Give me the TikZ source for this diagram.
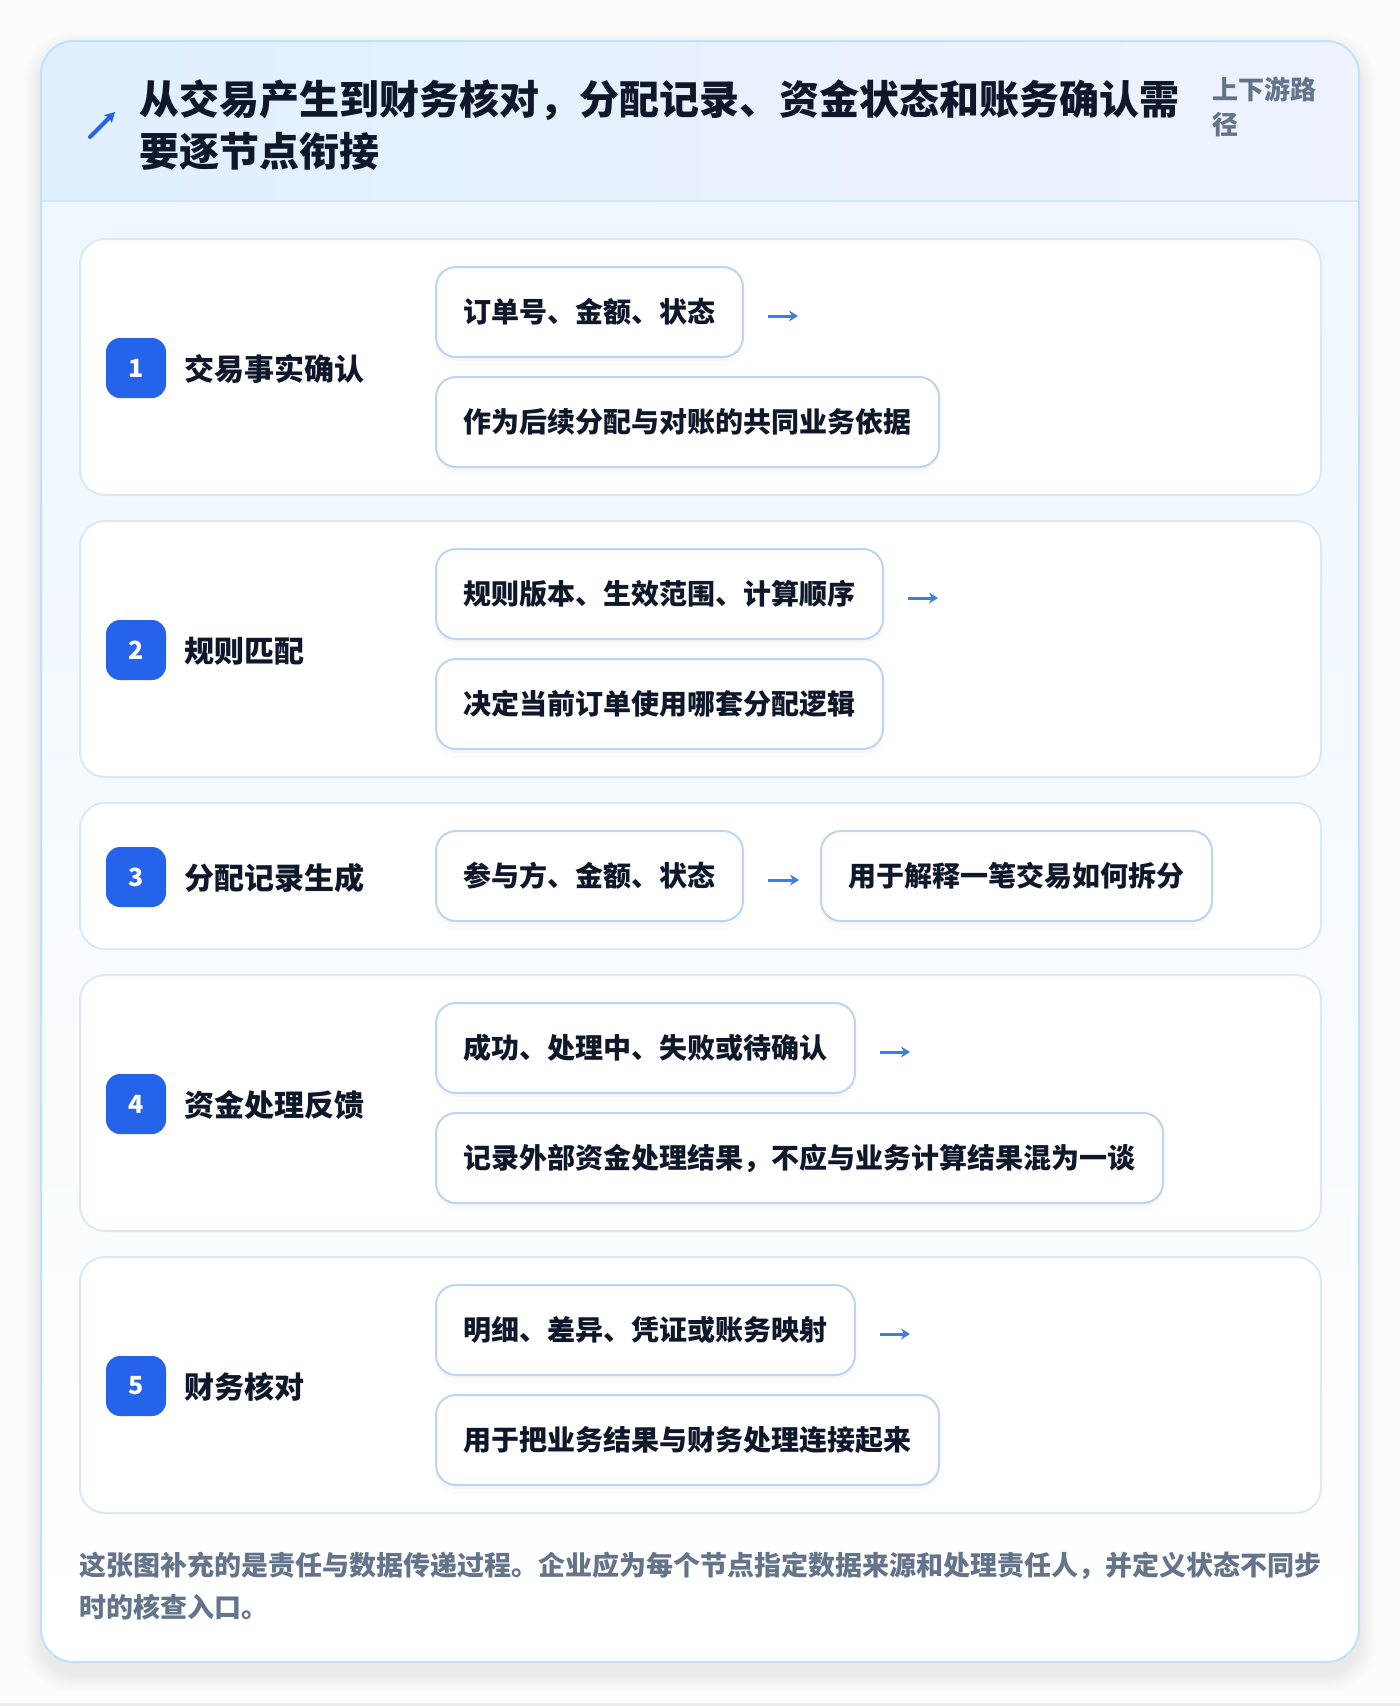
\documentclass[tikz,border=0pt]{standalone}
\usepackage{fontspec}
\setmainfont{Noto Sans CJK SC}
\usetikzlibrary{positioning,arrows.meta,shadows}

\definecolor{inkdark}{HTML}{0F172A}
\definecolor{slatetext}{HTML}{64748B}
\definecolor{badgeblue}{HTML}{2563EB}
\definecolor{arrowblue}{HTML}{3B7FE6}
\definecolor{cardline}{HTML}{DAE8F7}
\definecolor{boxline}{HTML}{BCD5F3}
\definecolor{outerline}{HTML}{BEE2F8}
\definecolor{headleft}{HTML}{E0F0FE}
\definecolor{headright}{HTML}{EEF2FF}
\definecolor{headline}{HTML}{D3E7FA}
\definecolor{bodytop}{HTML}{EEF7FF}
\definecolor{pagebg}{HTML}{FCFCFD}

\tikzset{
  stepcard/.style={draw=cardline, line width=2pt, fill=white, rounded corners=25pt,
    minimum width=1241pt, anchor=north west, inner sep=0pt},
  badge/.style={fill=badgeblue, rounded corners=14pt, minimum size=60pt, inner sep=0pt,
    text=white, font=\fontsize{25}{25}\selectfont\bfseries},
  steplabel/.style={anchor=west, inner sep=0pt, text=inkdark,
    font=\fontsize{30}{30}\selectfont\bfseries},
  itembox/.style={draw=boxline, line width=2pt, fill=white, rounded corners=20pt,
    minimum height=90pt, inner xsep=27.5pt, inner ysep=0pt, anchor=north west,
    text=inkdark, font=\fontsize{28}{28}\selectfont\bfseries,
    drop shadow={opacity=0.035, shadow xshift=0pt, shadow yshift=-4pt},
    drop shadow={opacity=0.025, shadow xshift=0pt, shadow yshift=-9pt}},
  nextarrow/.style={arrowblue, line width=3pt, -{Stealth[length=9pt, width=11pt, inset=3pt]}},
}

\begin{document}
\begin{tikzpicture}[x=1pt, y=-1pt]
  \useasboundingbox (0,0) rectangle (1400,1706);
  \fill[pagebg] (0,0) rectangle (1400,1706);
  \fill[black!7] (0,1703) rectangle (1400,1706);

  % outer card
  \foreach \i in {1,...,18} {
    \pgfmathsetmacro{\rad}{33+\i}
    \fill[black, opacity=0.005, rounded corners=\rad pt]
      (41-\i,41-\i+8) rectangle (1359+\i,1662+\i+12);
  }
  \fill[white, rounded corners=33pt] (41,41) rectangle (1359,1662);
  \begin{scope}
    \clip[rounded corners=33pt] (41,41) rectangle (1359,1662);
    \shade[left color=headleft, right color=headright] (41,41) rectangle (1359,201);
    \shade[top color=bodytop, bottom color=white] (41,201) rectangle (1359,1662);
  \end{scope}
  \draw[headline, line width=2pt] (41,201) -- (1359,201);
  \draw[outerline, line width=2pt, rounded corners=33pt] (41,41) rectangle (1359,1662);

  % header
  \draw[badgeblue, line width=4pt, line cap=round, -{Stealth[length=10pt, width=11pt, inset=2pt]}]
    (90,137) -- (115,112);
  \node[anchor=west, inner sep=0pt, align=left, text=inkdark,
    font=\fontsize{40}{52}\selectfont\bfseries] (title) at (139,125)
    {从交易产生到财务核对，分配记录、资金状态和账务确认需\\要逐节点衔接};
  \node[anchor=west, inner sep=0pt, align=left, text=slatetext,
    font=\fontsize{26}{35}\selectfont\bfseries] (scope) at (1212,106.5)
    {上下游路\\径};

  % steps with two rows
  \foreach \n/\ytop/\stepname/\itema/\itemb in {
    1/238/交易事实确认/订单号、金额、状态/作为后续分配与对账的共同业务依据,
    2/520/规则匹配/规则版本、生效范围、计算顺序/决定当前订单使用哪套分配逻辑,
    4/974/资金处理反馈/成功、处理中、失败或待确认/记录外部资金处理结果，不应与业务计算结果混为一谈,
    5/1256/财务核对/明细、差异、凭证或账务映射/用于把业务结果与财务处理连接起来} {
    \node[stepcard, minimum height=256pt] (card\n) at (79,\ytop) {};
    \node[badge] (badge\n) at (136,\ytop+130) {\n};
    \node[steplabel] (label\n) at (184,\ytop+131) {\stepname};
    \node[itembox] (a\n) at (435,\ytop+28) {\itema};
    \node[itembox] (b\n) at (435,\ytop+138) {\itemb};
    \coordinate (t\n) at ([xshift=24pt, yshift=-4pt]a\n.east);
    \draw[nextarrow] (t\n) -- ++(30,0);
  }

  % step with one row
  \node[stepcard, minimum height=146pt] (card3) at (79,802) {};
  \node[badge] (badge3) at (136,877) {3};
  \node[steplabel] (label3) at (184,878) {分配记录生成};
  \node[itembox] (a3) at (435,830) {参与方、金额、状态};
  \node[itembox, anchor=west] (b3) at ([xshift=76pt]a3.east) {用于解释一笔交易如何拆分};
  \draw[nextarrow, shorten <=24pt, shorten >=21pt] ([yshift=-4pt]a3.east) -- ([yshift=-4pt]b3.west);

  % note
  \node[anchor=west, inner sep=0pt, align=left, text=slatetext,
    font=\fontsize{27}{42}\selectfont\bfseries] (note) at (79,1586)
    {这张图补充的是责任与数据传递过程。企业应为每个节点指定数据来源和处理责任人，并定义状态不同步\\时的核查入口。};
\end{tikzpicture}
\end{document}
